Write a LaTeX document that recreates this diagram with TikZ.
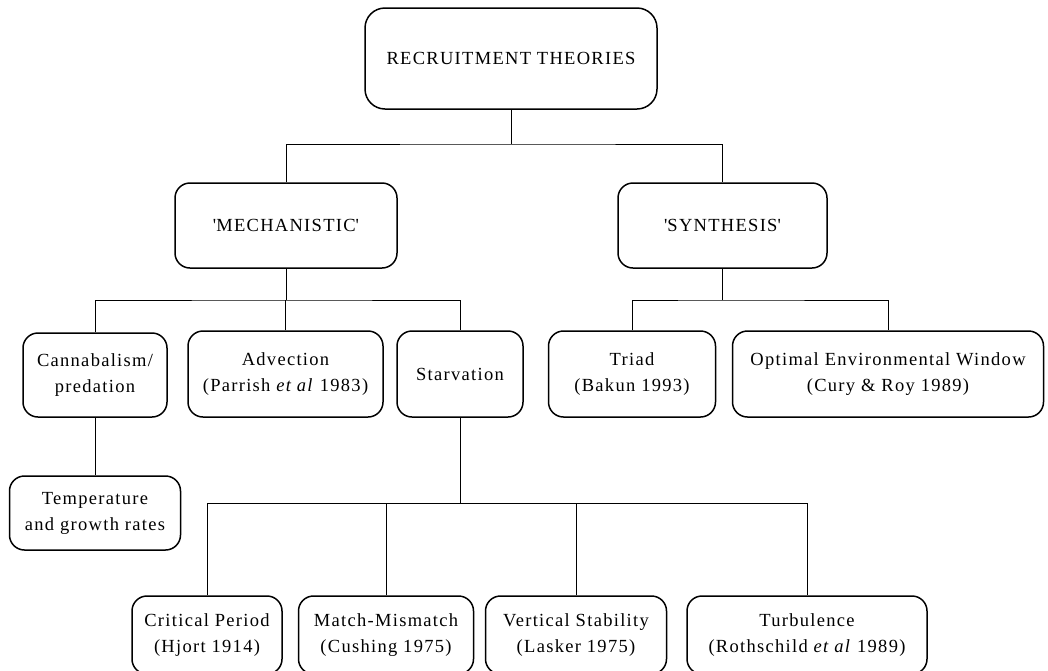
\documentclass[tikz,border=0pt]{standalone}
\usepackage{fontspec}
\setmainfont{Liberation Serif}[LetterSpace=7]
\begin{document}
\begin{tikzpicture}[x=1pt,y=-1pt,
  box/.style={draw, line width=1.5pt, rounded corners=15pt, align=center,
    inner sep=0pt, font=\fontsize{18.5}{26}\selectfont},
  link/.style={draw, line width=0.8pt}]
\useasboundingbox (0,0) rectangle (1048,670);

% root
\node[box, rounded corners=20pt, minimum width=292pt, minimum height=101pt,
  font=\fontsize{18.5}{26}\selectfont] (root) at (511,58.5) {RECRUITMENT THEORIES};

% second level
\node[box, minimum width=222pt, minimum height=85pt] (mech) at (286,225.5)
  {\textquotesingle MECHANISTIC\textquotesingle};
\node[box, minimum width=209pt, minimum height=85pt] (syn) at (722.5,225.5)
  {\textquotesingle SYNTHESIS\textquotesingle};

% third level
\node[box, minimum width=144pt, minimum height=84pt] (can) at (95,375)
  {Cannabalism/\\predation};
\node[box, minimum width=195pt, minimum height=86pt] (adv) at (285.5,374)
  {Advection\\(Parrish \textit{et al} 1983)};
\node[box, minimum width=126pt, minimum height=86pt] (starv) at (460,374)
  {Starvation};
\node[box, minimum width=167pt, minimum height=86pt] (triad) at (632,374)
  {Triad\\(Bakun 1993)};
\node[box, minimum width=311pt, minimum height=86pt] (oew) at (888,374)
  {Optimal Environmental Window\\(Cury \& Roy 1989)};

% under cannibalism
\node[box, minimum width=171pt, minimum height=74pt] (temp) at (95,513)
  {Temperature\\and growth rates};

% under starvation
\node[box, minimum width=150pt, minimum height=78pt] (crit) at (207,635)
  {Critical Period\\(Hjort 1914)};
\node[box, minimum width=175pt, minimum height=78pt] (match) at (386,635)
  {Match-Mismatch\\(Cushing 1975)};
\node[box, minimum width=181pt, minimum height=78pt] (vert) at (576,635)
  {Vertical Stability\\(Lasker 1975)};
\node[box, minimum width=240pt, minimum height=78pt] (turb) at (807,635)
  {Turbulence\\(Rothschild \textit{et al} 1989)};

% junctions
\coordinate (j1) at (511,144);
\coordinate (j2) at (286,300);
\coordinate (j3) at (722.5,300);
\coordinate (j4) at (460,503);

% connectors
\draw[link] (root.south) -- (j1);
\draw[link] (mech.north) |- (j1) -| (syn.north);

\draw[link] (mech.south) -- (j2);
\draw[link] (can.north) |- (j2) -| (starv.north);
\draw[link] (adv.north) -- (adv.north |- j2);

\draw[link] (syn.south) -- (j3);
\draw[link] (triad.north) |- (j3) -| (oew.north);

\draw[link] (can.south) -- (temp.north);

\draw[link] (starv.south) -- (j4);
\draw[link] (crit.north) |- (j4) -| (turb.north);
\draw[link] (match.north) -- (match.north |- j4);
\draw[link] (vert.north) -- (vert.north |- j4);
\end{tikzpicture}
\end{document}
